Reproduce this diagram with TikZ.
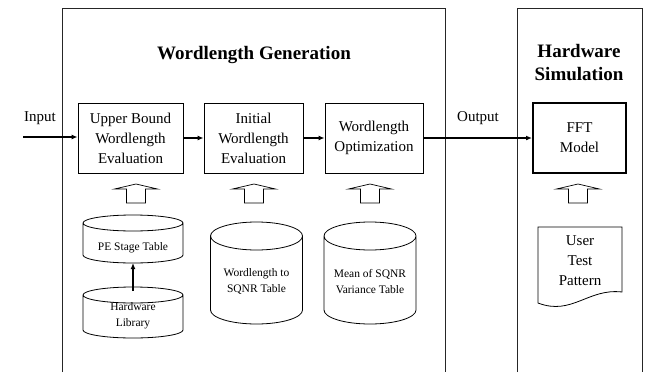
\documentclass[tikz,border=0pt]{standalone}
\usepackage{fontspec}
\setmainfont{Liberation Serif}
\usetikzlibrary{calc, arrows.meta, positioning}

% outline of a table: #1 = frame node, #2 = cap radius in pt
\newcommand{\dbshape}[2]{%
  \draw[line width=0.8pt]
    let \p1=($(#1.east)-(#1.west)$) in
    ([yshift=-#2pt]#1.north west) -- ([yshift=#2pt]#1.south west)
    arc[start angle=180, end angle=360, x radius=0.5*\x1, y radius=#2pt]
    -- ([yshift=-#2pt]#1.north east)
    arc[start angle=0, end angle=360, x radius=0.5*\x1, y radius=#2pt];
}

\begin{document}
\begin{tikzpicture}[x=1pt, y=-1pt,
  every node/.style={font=\fontsize{15}{20}\selectfont},
  stagebox/.style={draw, line width=0.8pt, minimum height=70pt, inner sep=0pt, align=center},
  tableframe/.style={inner sep=0pt, outer sep=0pt},
  dblabel/.style={align=center, font=\fontsize{11.5}{15.5}\selectfont},
  flow/.style={-{Latex[length=6pt,width=5pt]}, line width=1.3pt},
  hollow/.style={draw, line width=0.7pt, fill=white}]
\useasboundingbox (0,0) rectangle (647,372);
% Frames (open at the bottom)
\draw[line width=0.8pt, black!85] (62,372) -- (62,8) -- (445,8) -- (445,372);
\draw[line width=0.8pt, black!85] (517,372) -- (517,8) -- (642,8) -- (642,372);
\node[font=\bfseries\fontsize{19}{23}\selectfont] (wgtitle) at (254,55) {Wordlength Generation};
\node[font=\bfseries\fontsize{19}{23}\selectfont, align=center] (hstitle) at (579,63) {Hardware\\Simulation};
% Stages
\node[stagebox, minimum width=105pt] (ubound) at (130.5,138) {Upper Bound\\Wordlength\\Evaluation};
\node[stagebox, minimum width=99pt] (initwl) at (253.5,138) {Initial\\Wordlength\\Evaluation};
\node[stagebox, minimum width=98pt] (optwl) at (374,138) {Wordlength\\Optimization};
\node[stagebox, minimum width=93pt, line width=2pt] (fft) at (579.5,138) {FFT\\Model};
% Input / output
\coordinate (in) at (23,137);
\node (inlabel) at (40,118) {Input};
\node (outlabel) at (478,118) {Output};
\draw[flow] (in) -- (in -| ubound.west);
\draw[flow] (ubound) -- (initwl);
\draw[flow] (initwl) -- (optwl);
\draw[flow] (optwl) -- (fft);
% Hollow up arrows
\foreach \x in {136,254,370,578}
  \draw[hollow] (\x-9.5,203) -- (\x-9.5,189) -- (\x-21.5,189) -- (\x,184)
    -- (\x+21.5,189) -- (\x+9.5,189) -- (\x+9.5,203) -- cycle;
% Tables
\node[tableframe, minimum width=100pt, minimum height=48pt] (pestage) at (133,239) {};
\node[tableframe, minimum width=100pt, minimum height=51pt] (hwlib) at (133,312.5) {};
\node[tableframe, minimum width=92pt, minimum height=102pt] (wlsqnr) at (256.5,273) {};
\node[tableframe, minimum width=92pt, minimum height=102pt] (meansqnr) at (370,273) {};
\dbshape{pestage}{8}
\dbshape{hwlib}{8}
\dbshape{wlsqnr}{14}
\dbshape{meansqnr}{14}
\node[dblabel] (pestagetext) at (133,248) {PE Stage Table};
\node[dblabel] (hwlibtext) at (133,315.5) {Hardware\\Library};
\node[dblabel] (wlsqnrtext) at (256.5,281.5) {Wordlength to\\SQNR Table};
\node[dblabel] (meansqnrtext) at (370,281.5) {Mean of SQNR\\Variance Table};
\draw[flow] ([yshift=-4pt]hwlib.north) -- (pestage.south);
% Test pattern document
\draw[line width=0.8pt] (538,227) -- (622,227) -- (622,292)
  .. controls (588,288) and (572,316) .. (538,303) -- cycle;
\node[align=center] (pattern) at (580,261) {User\\Test\\Pattern};
\end{tikzpicture}
\end{document}
